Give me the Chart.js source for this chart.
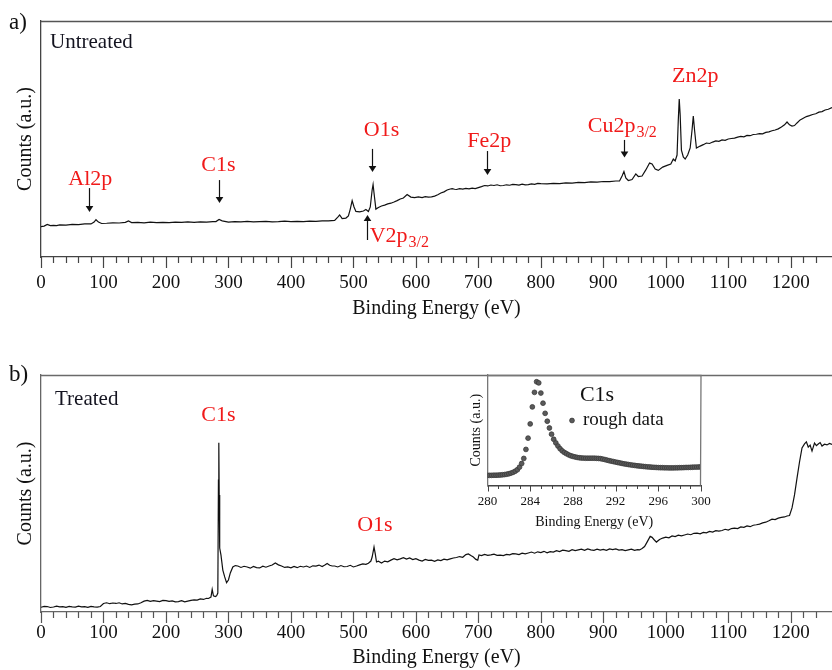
<!DOCTYPE html>
<html>
<head>
<meta charset="utf-8">
<script src="https://cdn.jsdelivr.net/npm/chart.js@4.4.1/dist/chart.umd.min.js"></script>
<style>
  html,body{margin:0;padding:0;background:#fff;}
  #wrap{position:relative;width:832px;height:670px;overflow:hidden;background:#fff;}
  canvas{position:absolute;}
</style>
</head>
<body>
<div id="wrap">
  <canvas id="ca" width="832" height="330" style="left:0;top:0"></canvas>
  <canvas id="cb" width="832" height="316" style="left:0;top:354px"></canvas>
  <canvas id="ci" width="291" height="170" style="left:430px;top:366px"></canvas>
</div>
<script>
// ---------- DATA ----------
const mainTickLabels = [0,100,200,300,400,500,600,700,800,900,1000,1100,1200];
const insetTickLabels = [280,284,288,292,296,300];

// Panel a) Untreated survey spectrum
const aEnergy = [0,5,10,15,20,25,30,40,50,60,70,80,85,88,92,97,105,115,125,135,140,145,155,165,175,185,195,205,215,225,235,245,255,265,275,280,285,290,300,310,320,330,340,350,360,370,380,390,400,410,420,430,440,450,460,470,475,478,482,488,492,495,498,501,504,510,516,520,524,527,530,531.5,533,536,540,545,550,555,560,565,570,575,580,586,592,598,604,610,615,620,625,630,635,640,645,650,655,658,662,665,670,675,680,685,690,695,700,705,710,715,720,725,730,735,740,745,750,755,760,765,770,775,780,785,790,795,800,810,820,830,840,850,860,870,880,890,900,910,920,926,930,933,936,940,946,952,956,962,968,974,978,983,988,995,1002,1008,1012,1015,1018,1020,1021.5,1023,1025,1028,1031,1035,1039,1042,1044,1046,1049,1055,1060,1065,1070,1075,1080,1085,1090,1095,1100,1105,1110,1115,1120,1125,1130,1135,1140,1145,1150,1155,1160,1165,1170,1175,1180,1185,1190,1194,1198,1202,1206,1210,1215,1220,1225,1230,1235,1240,1245,1250,1255,1260,1266];
const aCounts = [12.9,13.1,13.8,13.3,13.4,13.3,13.6,13.5,13.8,13.7,14.0,14.0,14.8,15.8,14.8,14.2,14.3,14.5,14.4,14.7,15.3,14.6,14.7,14.5,14.8,14.6,14.7,14.6,14.8,14.7,14.9,14.7,14.9,14.8,15.0,15.0,15.9,15.3,14.8,15.0,14.9,15.1,14.9,15.0,15.1,14.9,15.0,15.2,15.0,15.1,15.0,15.2,15.1,15.3,15.3,15.5,16.9,17.8,16.3,16.5,17.4,20.3,23.9,21.2,19.3,19.1,19.5,20.1,19.3,21.2,28.4,30.7,27.1,20.3,21.0,21.6,22.0,22.5,22.8,23.3,23.9,24.6,25.0,26.5,25.4,25.2,25.5,25.2,25.6,25.4,25.5,25.8,26.4,27.1,27.6,28.4,28.8,29.0,28.7,28.6,29.0,28.8,29.1,28.9,29.2,29.0,29.4,29.8,30.3,30.1,30.5,30.3,30.6,30.2,30.3,30.6,30.4,30.8,30.7,30.5,30.9,30.6,30.7,31.0,30.8,31.2,31.1,31.0,31.2,31.1,31.4,31.3,31.6,31.5,31.8,31.7,32.0,31.9,32.2,32.2,34.3,36.2,33.5,32.4,32.8,35.2,34.1,34.3,36.9,39.8,39.4,37.3,36.7,38.1,38.8,39.4,41.5,40.7,43.2,58.1,66.9,60.2,45.3,42.4,41.5,43.2,46.2,53.8,59.7,53.8,46.2,47.0,47.6,48.3,48.1,48.7,49.2,49.0,49.6,49.4,50.0,50.2,50.4,50.8,51.1,50.9,51.5,51.4,51.9,52.0,52.3,52.2,52.8,53.0,53.5,53.8,54.3,55.1,56.0,57.2,56.0,55.5,55.7,56.8,58.1,58.8,59.5,59.9,60.4,60.7,61.4,61.6,62.3,62.6,63.3];

// Panel b) Treated survey spectrum
const bEnergy = [0,5,10,15,20,25,30,35,40,45,50,55,60,65,70,75,80,85,90,95,100,105,110,115,120,125,130,135,140,145,150,155,160,165,170,175,180,185,190,195,200,205,210,215,220,225,230,235,240,245,250,255,260,265,268,272,274,276,279,281,283,284,284.6,285.2,286,288,291,294,297,300,303,307,311,315,320,325,330,335,340,345,350,355,360,365,370,375,380,385,390,395,400,405,410,415,420,425,430,435,440,445,450,455,458,462,466,470,475,480,485,490,495,500,505,510,515,520,524,528,530,533,535,537,540,545,550,555,560,565,570,575,580,585,590,595,600,605,610,615,620,625,630,635,640,645,650,655,660,665,670,675,680,684,688,692,696,699,701,705,710,715,720,725,730,735,740,745,750,755,760,765,770,775,780,785,790,795,800,805,810,815,820,825,830,835,840,845,850,855,860,865,870,875,880,885,890,895,900,905,910,915,920,925,930,935,940,945,950,955,958,962,966,970,975,978,981,985,990,995,1000,1005,1010,1015,1020,1025,1030,1035,1040,1045,1050,1055,1060,1065,1070,1075,1080,1085,1090,1095,1100,1105,1110,1115,1120,1125,1130,1135,1140,1145,1150,1155,1160,1165,1170,1175,1180,1185,1190,1194,1198,1202,1206,1210,1214,1218,1222,1225,1228,1231,1234,1238,1241,1244,1247,1250,1254,1258,1262,1266];
const bCounts = [2.0,2.4,2.3,1.9,2.1,2.5,2.2,2.3,2.0,2.4,2.2,2.1,2.5,2.2,2.3,2.0,2.4,2.2,2.1,2.3,3.6,3.9,3.5,3.8,3.6,3.9,3.4,3.6,3.2,3.0,3.3,3.4,3.9,4.6,4.9,4.5,4.8,4.6,4.4,4.9,4.8,4.5,4.7,4.3,4.4,4.8,4.3,4.6,4.9,5.1,5.0,5.5,5.3,5.8,5.7,6.3,9.5,6.8,6.5,6.8,8.0,55.7,71.4,49.4,27.0,24.1,17.7,14.8,12.4,13.5,16.5,19.0,19.6,19.4,18.8,19.3,19.0,18.5,19.2,18.7,18.6,19.3,18.9,19.4,19.8,20.7,19.9,19.4,18.8,19.0,18.6,19.2,18.7,19.3,19.0,19.4,18.8,19.5,19.4,19.8,19.2,19.9,20.5,19.7,19.4,19.4,19.0,19.6,19.1,19.2,19.7,19.0,19.4,19.9,20.3,20.1,20.6,21.5,23.2,27.4,24.5,21.1,21.4,20.7,21.5,21.2,21.9,22.5,22.0,22.4,22.9,22.3,22.8,22.1,22.5,21.9,21.5,22.2,21.8,21.9,21.4,22.0,21.7,22.3,22.0,22.4,22.8,23.0,23.4,23.1,24.2,24.5,23.8,23.2,22.2,21.9,24.1,23.8,24.3,23.9,24.1,24.4,23.9,24.0,23.8,24.3,24.1,24.6,24.5,24.2,24.8,24.5,24.9,25.3,24.8,25.4,25.1,25.6,25.0,25.5,25.3,25.9,25.5,26.1,25.9,25.6,26.3,25.9,26.2,26.5,26.0,26.6,26.2,26.0,26.5,26.1,26.4,26.0,26.6,26.3,26.6,26.1,26.3,25.9,26.2,26.5,26.0,26.3,26.2,26.8,27.6,29.5,31.9,31.5,30.6,29.5,30.6,31.2,31.6,31.3,32.1,31.8,32.4,32.1,32.5,32.9,32.6,33.2,33.3,33.0,33.6,33.4,34.0,33.7,34.3,34.1,34.4,34.9,34.6,35.2,35.4,35.2,35.9,35.7,36.3,36.0,36.6,36.8,37.1,37.6,37.9,38.5,39.2,39.0,39.6,39.9,40.1,40.5,40.7,43.9,49.4,56.5,63.3,69.2,70.9,71.8,69.6,70.4,67.9,71.3,70.2,70.9,71.5,70.0,70.8,70.5,71.1,70.7];

// Inset: C1s high-resolution, rough data
const insetEnergy = [280.0,280.2,280.4,280.6,280.8,281.0,281.2,281.4,281.6,281.8,282.0,282.2,282.4,282.6,282.8,283.0,283.2,283.4,283.6,283.8,284.0,284.2,284.4,284.6,284.8,285.0,285.2,285.4,285.6,285.8,286.0,286.2,286.4,286.6,286.8,287.0,287.2,287.4,287.6,287.8,288.0,288.2,288.4,288.6,288.8,289.0,289.2,289.4,289.6,289.8,290.0,290.2,290.4,290.6,290.8,291.0,291.2,291.4,291.6,291.8,292.0,292.2,292.4,292.6,292.8,293.0,293.2,293.4,293.6,293.8,294.0,294.2,294.4,294.6,294.8,295.0,295.2,295.4,295.6,295.8,296.0,296.2,296.4,296.6,296.8,297.0,297.2,297.4,297.6,297.8,298.0,298.2,298.4,298.6,298.8,299.0,299.2,299.4,299.6,299.8,300.0];
const insetCounts = [9.0,9.0,9.0,9.1,9.1,9.2,9.3,9.5,9.7,10.0,10.4,11.0,11.7,12.7,14.0,16.3,19.5,24.0,32.0,42.0,54.6,69.7,82.6,92.0,91.0,82.0,73.0,64.0,57.0,51.0,45.5,41.0,37.8,35.0,32.6,30.7,29.3,28.2,27.2,26.4,25.8,25.3,24.9,24.6,24.4,24.3,24.2,24.2,24.2,24.2,24.2,24.1,24.0,23.8,23.4,23.0,22.5,22.0,21.6,21.2,20.8,20.4,20.0,19.6,19.2,18.9,18.6,18.3,18.0,17.8,17.5,17.3,17.1,16.9,16.7,16.5,16.4,16.2,16.1,16.0,15.9,15.8,15.8,15.7,15.7,15.6,15.6,15.6,15.7,15.7,15.8,15.8,15.9,16.0,16.0,16.1,16.2,16.3,16.3,16.4,16.5];

// ---------- STYLE / HELPERS ----------
const SERIF = "'Liberation Serif', 'Times New Roman', serif";
const RED = '#f01a1a';
Chart.defaults.font.family = SERIF;
Chart.defaults.color = '#111';

function pts(xs, ys){ return xs.map((e,i)=>({x:e, y:ys[i]})); }

function decor(id, cfg){
  return {
    id,
    afterDraw(chart){
      const {ctx, chartArea:ca, scales:{x, y}} = chart;
      ctx.save();
      // frame: top line (and right line for the inset)
      ctx.strokeStyle = cfg.frameColor; ctx.lineWidth = cfg.frameWidth;
      ctx.beginPath();
      ctx.moveTo(ca.left, ca.top + 0.5); ctx.lineTo(ca.right, ca.top + 0.5);
      if (cfg.rightBorder){ ctx.lineTo(ca.right - 0.5, ca.bottom); }
      ctx.stroke();
      // major / minor tick marks at the library's tick values
      ctx.strokeStyle = cfg.tickColor; ctx.lineWidth = cfg.tickWidth;
      ctx.beginPath();
      x.ticks.forEach(t=>{
        const q = t.value / cfg.minorStep;
        if (Math.abs(q - Math.round(q)) > 1e-6) return;
        const m = t.value / cfg.majorStep;
        const major = Math.abs(m - Math.round(m)) < 1e-6;
        const px = Math.round(x.getPixelForValue(t.value)) + 0.5;
        ctx.moveTo(px, x.top); ctx.lineTo(px, x.top + (major ? cfg.majorLen : cfg.minorLen));
      });
      ctx.stroke();
      // text annotations
      (cfg.texts || []).forEach(t=>{
        const px = t.px ? t.x : x.getPixelForValue(t.x);
        const py = t.px ? t.y : y.getPixelForValue(t.y);
        ctx.fillStyle = t.color || '#111';
        ctx.font = (t.size || 20) + 'px ' + SERIF;
        ctx.textBaseline = t.baseline || 'middle';
        ctx.textAlign = t.align || 'center';
        ctx.fillText(t.text, px, py);
        if (t.sub){
          const w = ctx.measureText(t.text).width;
          const sx = (t.align === 'left') ? px + w : px + w/2;
          ctx.font = (t.subSize || 15) + 'px ' + SERIF;
          ctx.textAlign = 'left';
          ctx.fillText(t.sub, sx + 1, py + (t.subDrop || 5));
        }
      });
      // arrows
      (cfg.arrows || []).forEach(a=>{
        const px = Math.round(x.getPixelForValue(a.x)) + 0.5;
        const y1 = y.getPixelForValue(a.from), y2 = y.getPixelForValue(a.to);
        const dir = y2 > y1 ? 1 : -1;
        ctx.strokeStyle = '#111'; ctx.fillStyle = '#111'; ctx.lineWidth = 1.2;
        ctx.beginPath(); ctx.moveTo(px, y1); ctx.lineTo(px, y2 - dir*4); ctx.stroke();
        ctx.beginPath();
        ctx.moveTo(px, y2); ctx.lineTo(px - 3.8, y2 - dir*6); ctx.lineTo(px + 3.8, y2 - dir*6);
        ctx.closePath(); ctx.fill();
      });
      // in-plot legend (inset)
      if (cfg.legend){
        const L = cfg.legend;
        const ds = chart.data.datasets[0];
        ctx.fillStyle = '#111';
        ctx.font = L.titleSize + 'px ' + SERIF;
        ctx.textAlign = 'center'; ctx.textBaseline = 'middle';
        ctx.fillText(L.title, L.tx, L.ty);
        ctx.beginPath(); ctx.arc(L.mx, L.my, 2.4, 0, Math.PI*2);
        ctx.fillStyle = ds.backgroundColor; ctx.fill();
        ctx.strokeStyle = ds.borderColor; ctx.lineWidth = 0.8; ctx.stroke();
        ctx.fillStyle = '#111';
        ctx.font = L.labelSize + 'px ' + SERIF;
        ctx.textAlign = 'left';
        ctx.fillText(ds.label, L.lx, L.ly);
      }
      ctx.restore();
    }
  };
}

function mainOptions(o){
  return {
    responsive:false, animation:false, events:[],
    layout:{padding:{top:21, left:0, right:0, bottom:0}},
    plugins:{legend:{display:false}, tooltip:{enabled:false}},
    scales:{
      x:{type:'linear', min:0, max:1266,
        afterFit:s=>{ s.height = o.xHeight; },
        grid:{display:false, drawTicks:true, tickLength:o.tickPad},
        border:{display:true, color:o.axisColor, width:1.3},
        ticks:{stepSize:20, autoSkip:false, maxRotation:0, minRotation:0, padding:0, color:'#111', font:{size:19},
               callback:v => mainTickLabels.includes(v) ? String(v) : ''},
        title:{display:true, text:'Binding Energy (eV)', color:'#111', font:{size:20}, padding:{top:0, bottom:o.titlePad}}
      },
      y:{type:'linear', min:0, max:100,
        afterFit:s=>{ s.width = 41; },
        grid:{display:false},
        ticks:{display:false},
        border:{display:true, color:o.axisColor, width:1.3},
        title:{display:true, text:'Counts (a.u.)', color:'#111', font:{size:20}, padding:{top:14, bottom:0}}
      }
    }
  };
}

// ---------- PANEL a ----------
new Chart(document.getElementById('ca'), {
  type:'line',
  data:{datasets:[{label:'Untreated', data:pts(aEnergy, aCounts), borderColor:'#111', borderWidth:1.2, pointRadius:0, tension:0}]},
  options:mainOptions({xHeight:73, tickPad:14.9, titlePad:9.5, axisColor:'#444'}),
  plugins:[decor('decorA', {
    frameColor:'#555', frameWidth:1.3, tickColor:'#444', tickWidth:1.2,
    minorStep:20, majorStep:100, majorLen:11, minorLen:6,
    texts:[
      {px:true, x:9, y:23, text:'a)', size:23, align:'left'},
      {px:true, x:50, y:42, text:'Untreated', size:21, align:'left', color:'#141420'},
      {x:79, y:33.1, text:'Al2p', size:22, color:RED},
      {x:284, y:39, text:'C1s', size:22, color:RED},
      {x:545, y:53.8, text:'O1s', size:22, color:RED},
      {x:717.6, y:48.9, text:'Fe2p', size:22, color:RED},
      {x:1047, y:76.4, text:'Zn2p', size:22, color:RED},
      {x:875, y:53.1, text:'Cu2p', sub:'3/2', size:22, subSize:16, subDrop:5.5, align:'left', baseline:'alphabetic', color:RED},
      {x:526, y:6.5, text:'V2p', sub:'3/2', size:22, subSize:16, subDrop:5.5, align:'left', baseline:'alphabetic', color:RED}
    ],
    arrows:[
      {x:76.8, from:29.2, to:19.1},
      {x:284.8, from:32.6, to:22.9},
      {x:529.6, from:45.8, to:36.0},
      {x:521, from:7.2, to:17.8},
      {x:714, from:44.9, to:34.7},
      {x:933.6, from:49.6, to:42.2}
    ]
  })]
});

// ---------- PANEL b ----------
new Chart(document.getElementById('cb'), {
  type:'line',
  data:{datasets:[{label:'Treated', data:pts(bEnergy, bCounts), borderColor:'#111', borderWidth:1.2, pointRadius:0, tension:0}]},
  options:mainOptions({xHeight:58, tickPad:9.9, titlePad:0, axisColor:'#666'}),
  plugins:[decor('decorB', {
    frameColor:'#6a6a6a', frameWidth:1.5, tickColor:'#555', tickWidth:1.2,
    minorStep:20, majorStep:100, majorLen:11, minorLen:6,
    texts:[
      {px:true, x:9, y:21, text:'b)', size:23, align:'left'},
      {px:true, x:55, y:45, text:'Treated', size:21, align:'left', color:'#141420'},
      {x:284, y:83.1, text:'C1s', size:22, color:RED},
      {x:534.4, y:36.7, text:'O1s', size:22, color:RED}
    ]
  })]
});

// ---------- INSET (C1s) ----------
new Chart(document.getElementById('ci'), {
  type:'scatter',
  data:{datasets:[{label:'rough data', data:pts(insetEnergy, insetCounts), backgroundColor:'#5a5a5a', borderColor:'#3a3a3a', borderWidth:0.8, pointRadius:2.4, showLine:false}]},
  options:{
    responsive:false, animation:false, events:[],
    layout:{padding:{top:9, left:0, right:20, bottom:0}},
    plugins:{legend:{display:false}, tooltip:{enabled:false}},
    scales:{
      x:{type:'linear', min:280, max:300,
        afterFit:s=>{ s.height = 50.5; },
        grid:{display:false, drawTicks:true, tickLength:8.7},
        border:{display:true, color:'#444', width:1.6},
        ticks:{stepSize:1, autoSkip:false, maxRotation:0, minRotation:0, padding:0, color:'#111', font:{size:13},
               callback:v => insetTickLabels.includes(v) ? String(v) : ''},
        title:{display:true, text:'Binding Energy (eV)', color:'#111', font:{size:14}, padding:{top:0, bottom:5}}
      },
      y:{type:'linear', min:0, max:98,
        afterFit:s=>{ s.width = 57.5; },
        grid:{display:false},
        ticks:{display:false},
        border:{display:true, color:'#777', width:1.3},
        title:{display:true, text:'Counts (a.u.)', color:'#111', font:{size:14}, padding:{top:37.6, bottom:0}}
      }
    }
  },
  plugins:[decor('decorI', {
    frameColor:'#777', frameWidth:1.3, rightBorder:true, tickColor:'#444', tickWidth:1,
    minorStep:1, majorStep:4, majorLen:6, minorLen:3.5,
    legend:{title:'C1s', titleSize:22, tx:167, ty:29, mx:142, my:54.5, labelSize:19, lx:153, ly:54}
  })]
});
</script>
</body>
</html>
